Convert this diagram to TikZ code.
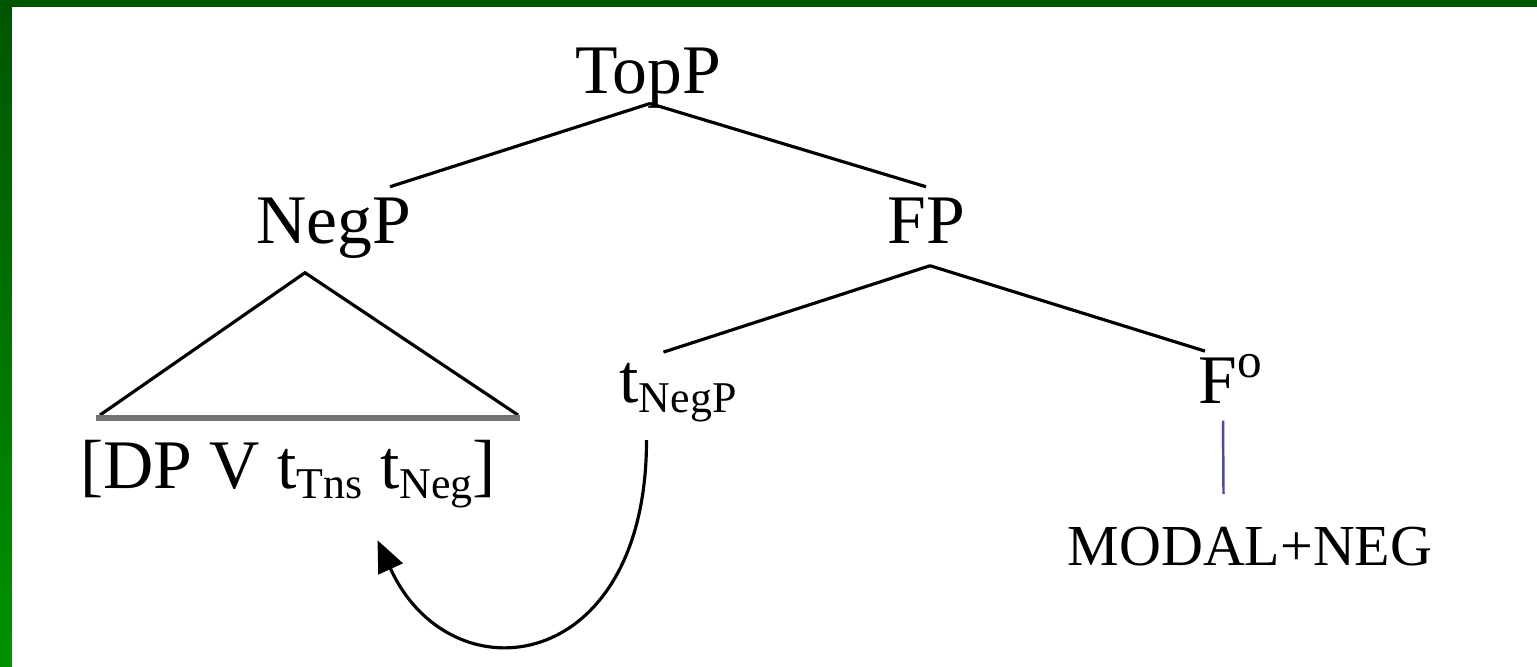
\documentclass[tikz,border=0pt]{standalone}
\usepackage{fontspec}
\setmainfont{Liberation Serif}
\usetikzlibrary{arrows.meta}
\definecolor{framegreen}{HTML}{005500}
\definecolor{framegreenlight}{HTML}{009200}
\definecolor{linkblue}{HTML}{4B4BA0}
\newcommand{\trsub}[1]{\raisebox{-0.1cm}{\fontsize{12.5}{14}\selectfont #1}}
\tikzset
{
    treenode/.style = {inner sep=0pt, anchor=base, font=\fontsize{19.8}{24}\selectfont},
    leafnode/.style = {inner sep=0pt, anchor=base, font=\fontsize{16.5}{19}\selectfont},
    branch/.style   = {line width=0.9pt, black},
    subtree/.style  = {line width=0.9pt, black, line join=miter},
    movement/.style = {line width=0.9pt, -{Triangle[length=9pt,width=7.5pt]}}
}

\begin{document}
\begin{tikzpicture}
	% frame
	\useasboundingbox (0,0) rectangle (15.37,6.66);
	\fill[white] (0,0) rectangle (15.37,6.66);
	\shade[top color=framegreen, bottom color=framegreenlight] (0,0) rectangle (0.12,6.66);
	\fill[framegreen] (0,6.59) rectangle (15.37,6.66);

	\node[treenode] (TopP) at (6.48,5.73) {TopP};
	\node[treenode] (NegP) at (3.34,4.23) {NegP};
	\node[treenode] (FP) at (9.26,4.23) {FP};
	\node[treenode] (tNegP) at (6.78,2.64) {t\trsub{NegP}};
	\node[treenode] (Fo) at (12.30,2.63) {F\raisebox{0.26cm}{\fontsize{14}{14}\selectfont o}};
	\node[treenode] (DP) at (2.88,1.78) {[DP V t\trsub{Tns} t\trsub{Neg}]};
	\node[leafnode] (Modal) at (12.50,1.01) {MODAL+NEG};

	\draw[branch] ([shift={(0.02,0.05)}]TopP.south) -- ([shift={(0.56,0.10)}]NegP.north);
	\draw[branch] ([shift={(0.02,0.05)}]TopP.south) -- ([shift={(0,0.10)}]FP.north);
	\draw[branch] ([shift={(0.04,-0.22)}]FP.south) -- ([shift={(-0.145,0.10)}]tNegP.north);
	\draw[branch] ([shift={(0.04,-0.22)}]FP.south) -- ([shift={(-0.25,0.02)}]Fo.north);
	\draw[linkblue, line width=0.7pt] ([shift={(-0.07,-0.17)}]Fo.south) -- ([shift={(-0.265,0.32)}]Modal.north);

	% triangle over the NegP content
	\draw[subtree] ([shift={(-1.88,0.24)}]DP.north) -- ([shift={(-0.29,-0.14)}]NegP.south) -- ([shift={(2.30,0.24)}]DP.north);
	\draw[line width=1.7pt, black!55] ([shift={(-1.92,0.21)}]DP.north) -- ([shift={(2.32,0.21)}]DP.north);

	% movement of NegP
	\draw[movement] ([shift={(-0.315,-0.18)}]tNegP.south) .. controls +(0,-2.35) and +(0.73,-1.60) .. ([shift={(0.895,-0.32)}]DP.south);
\end{tikzpicture}
\end{document}
